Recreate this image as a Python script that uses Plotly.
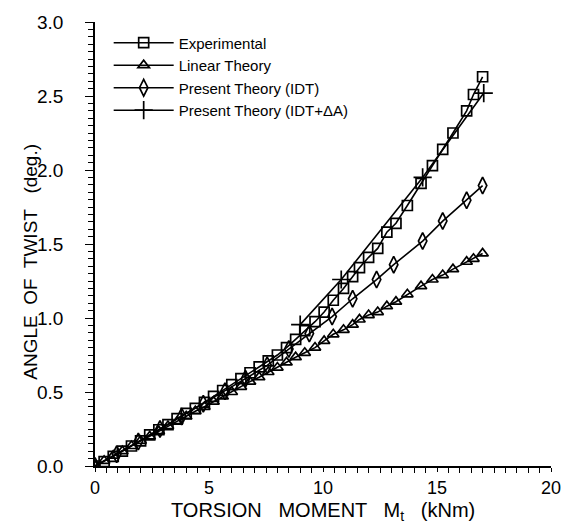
import plotly.graph_objects as go

# Torsion moment (kNm) and angle of twist (deg.) for each series
exp_x = [0, 0.4, 0.8, 1.2, 1.6, 2.0, 2.4, 2.8, 3.2, 3.6, 4.0, 4.4, 4.8, 5.2, 5.6, 6.0,
         6.4, 6.8, 7.2, 7.6, 8.0, 8.4, 8.8, 9.2, 9.65, 10.05, 10.45, 10.9, 11.3, 11.6,
         12.0, 12.4, 12.8, 13.2, 13.7, 14.3, 14.8, 15.25, 15.7, 16.3, 16.6, 17.0]
exp_y = [0, 0.03, 0.065, 0.10, 0.135, 0.17, 0.21, 0.245, 0.28, 0.32, 0.355, 0.39, 0.43,
         0.47, 0.51, 0.55, 0.59, 0.63, 0.67, 0.71, 0.75, 0.80, 0.855, 0.915, 0.975, 1.04,
         1.12, 1.20, 1.28, 1.34, 1.41, 1.47, 1.58, 1.64, 1.76, 1.91, 2.03, 2.14, 2.25,
         2.40, 2.51, 2.63]

lin_x = exp_x
lin_y = [0, 0.035, 0.07, 0.10, 0.135, 0.17, 0.20, 0.235, 0.27, 0.30, 0.335, 0.37, 0.40,
         0.435, 0.47, 0.50, 0.535, 0.57, 0.60, 0.635, 0.665, 0.70, 0.735, 0.765, 0.80,
         0.845, 0.89, 0.92, 0.955, 0.99, 1.02, 1.04, 1.08, 1.11, 1.16, 1.215, 1.26, 1.29,
         1.33, 1.38, 1.40, 1.436]

idt_x = [0, 0.95, 1.9, 2.85, 3.8, 4.75, 5.7, 6.6, 7.55, 8.5, 9.4, 10.4, 11.3, 12.35,
         13.1, 14.37, 15.25, 16.3, 17.0]
idt_y = [0, 0.08, 0.165, 0.25, 0.335, 0.42, 0.505, 0.59, 0.68, 0.79, 0.895, 1.01, 1.13,
         1.26, 1.36, 1.52, 1.655, 1.795, 1.895]

idta_x = [9.0, 10.8, 14.37, 17.05]
idta_y = [0.955, 1.26, 1.95, 2.52]

x_title = "TORSION   MOMENT   M<sub>t</sub>   (kNm)"
y_title = "ANGLE  OF  TWIST   (deg.)"

FONT = "Liberation Sans, Arial, sans-serif"
BLACK = "black"

fig = go.Figure()


def add_series(x, y, name, symbol, size):
    fig.add_trace(go.Scatter(
        x=x, y=y, name=name, mode="lines+markers",
        line=dict(color=BLACK, width=1.6),
        marker=dict(symbol=symbol, size=size, color=BLACK,
                    line=dict(color=BLACK, width=1.7)),
    ))


add_series(exp_x, exp_y, "Experimental", "square-open", 10)
add_series(lin_x, lin_y, "Linear Theory", "triangle-up-open", 10)
add_series(idt_x, idt_y, "Present Theory (IDT)", "diamond-tall-open", 12)
add_series(idta_x, idta_y, "Present Theory (IDT+ΔA)", "cross-thin-open", 13)

fig.update_layout(
    width=573, height=529,
    margin=dict(l=95, r=22, t=17, b=63),
    paper_bgcolor="white", plot_bgcolor="white",
    font=dict(family=FONT, color=BLACK, size=18),
    showlegend=True,
    legend=dict(
        x=0.03, y=0.99, xanchor="left", yanchor="top",
        bgcolor="rgba(0,0,0,0)", font=dict(size=15, family=FONT),
        itemwidth=60, tracegroupgap=0,
    ),
    annotations=[
        dict(text=x_title, xref="paper", yref="paper", x=0.5, y=0,
             xanchor="center", yanchor="top", yshift=-31, showarrow=False,
             font=dict(size=20, family=FONT, color=BLACK)),
        dict(text=y_title, xref="paper", yref="paper", x=0, y=0.46,
             xanchor="center", yanchor="middle", xshift=-64, textangle=-90,
             showarrow=False, font=dict(size=19, family=FONT, color=BLACK)),
    ],
)

fig.update_xaxes(
    range=[0, 20], showgrid=False, zeroline=False,
    showline=True, linecolor=BLACK, linewidth=1.8,
    tickmode="linear", tick0=0, dtick=5,
    ticks="outside", ticklen=4, tickwidth=1.3, tickcolor=BLACK,
    minor=dict(tickmode="linear", tick0=0, dtick=0.5, ticks="outside",
               ticklen=5, tickwidth=1.1, tickcolor=BLACK),
    tickfont=dict(size=18), ticklabelstandoff=0,
)
fig.update_yaxes(
    range=[0, 3], showgrid=False, zeroline=False,
    showline=True, linecolor=BLACK, linewidth=1.8,
    tickmode="linear", tick0=0, dtick=0.5, tickformat=".1f",
    ticks="outside", ticklen=8, tickwidth=1.3, tickcolor=BLACK,
    minor=dict(tickmode="linear", tick0=0, dtick=0.05, ticks="outside",
               ticklen=5, tickwidth=1.1, tickcolor=BLACK),
    tickfont=dict(size=19), ticklabelstandoff=18,
)

fig.write_html("out.html")
